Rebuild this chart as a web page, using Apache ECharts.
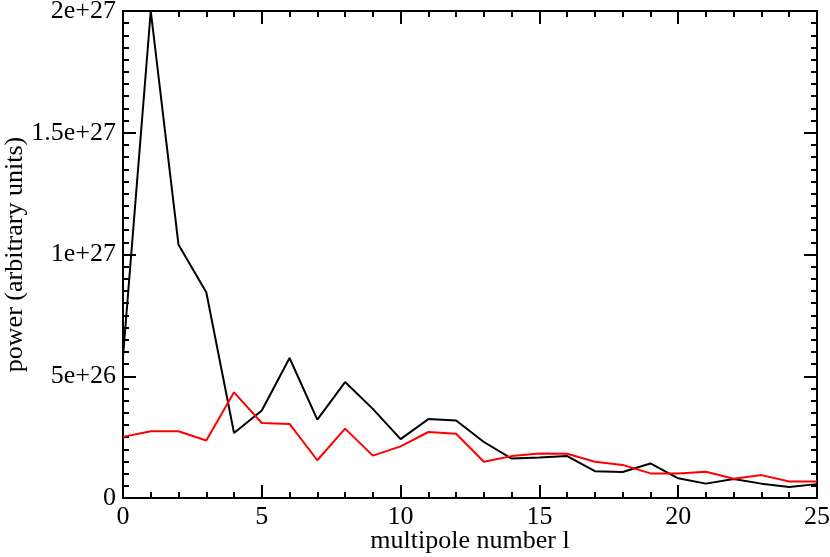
<!DOCTYPE html>
<html>
<head>
<meta charset="utf-8">
<script src="https://cdn.jsdelivr.net/npm/echarts@6/dist/echarts.min.js"></script>
<style>
html, body { margin: 0; padding: 0; background: #fff; }
#chart { width: 830px; height: 557px; }
</style>
</head>
<body>
<div id="chart"></div>
<script>
// multipole number l
var multipoles = [0, 1, 2, 3, 4, 5, 6, 7, 8, 9, 10, 11, 12, 13, 14, 15, 16, 17, 18, 19, 20, 21, 22, 23, 24, 25];
// power, black curve
var powerBlack = [5.8e26, 2.0e27, 1.04e27, 8.45e26, 2.67e26, 3.59e26, 5.75e26, 3.22e26, 4.76e26, 3.66e26,
	2.42e26, 3.24e26, 3.18e26, 2.3e26, 1.62e26, 1.66e26, 1.72e26, 1.10e26, 1.07e26, 1.42e26,
	8.1e25, 5.9e25, 7.8e25, 5.9e25, 4.5e25, 5.7e25];
// power, red curve
var powerRed = [2.51e26, 2.74e26, 2.74e26, 2.36e26, 4.34e26, 3.08e26, 3.04e26, 1.55e26, 2.85e26, 1.74e26,
	2.12e26, 2.71e26, 2.64e26, 1.49e26, 1.72e26, 1.83e26, 1.82e26, 1.49e26, 1.36e26, 1.01e26,
	1.01e26, 1.08e26, 7.9e25, 9.4e25, 6.8e25, 6.8e25];

function pairs(xs, ys) {
	var out = [];
	for (var i = 0; i < xs.length; i++) {
		out.push([xs[i], ys[i]]);
	}
	return out;
}

var font = 'Liberation Serif';
var fsize = 26;

function yLabel(v) {
	if (v === 0) return '0';
	return Number(v.toPrecision(3)).toExponential();
}

//frame axis: ticks inside, no labels
function frameAxis(pos, isX) {
	return {
		type: 'value',
		position: pos,
		min: 0,
		max: isX ? 25 : 2e27,
		interval: isX ? 5 : 5e26,
		axisLine: { show: true, onZero: false, lineStyle: { color: '#000', width: 2 } },
		axisTick: { show: true, inside: true, length: 13, lineStyle: { color: '#000', width: 2 } },
		minorTick: { show: true, splitNumber: isX ? 5 : 10, length: 6, lineStyle: { color: '#000', width: 2 } },
		splitLine: { show: false },
		minorSplitLine: { show: false },
		axisLabel: { show: false }
	};
}

var chart = echarts.init(document.getElementById('chart'));

var xMain = frameAxis('bottom', true);
xMain.name = 'multipole number l';
xMain.nameLocation = 'middle';
xMain.nameGap = 30;
xMain.nameMoveOverlap = false;
xMain.nameTextStyle = { fontFamily: font, fontSize: fsize, color: '#000' };
xMain.axisLabel = { show: true, fontFamily: font, fontSize: fsize, color: '#000', margin: 6 };

var yMain = frameAxis('left', false);
yMain.name = 'power (arbitrary units)';
yMain.nameLocation = 'middle';
yMain.nameGap = 95;
yMain.nameMoveOverlap = false;
yMain.nameTextStyle = { fontFamily: font, fontSize: fsize, color: '#000' };
yMain.axisLabel = { show: true, fontFamily: font, fontSize: fsize, color: '#000', margin: 7, formatter: yLabel };

var option = {
	backgroundColor: '#fff',
	animation: false,
	grid: { left: 123, right: 13, top: 11, bottom: 59, containLabel: false, outerBoundsMode: 'none' },
	xAxis: [xMain, frameAxis('top', true)],
	yAxis: [yMain, frameAxis('right', false)],
	series: [
		{
			name: 'black',
			type: 'line',
			data: pairs(multipoles, powerBlack),
			showSymbol: false,
			lineStyle: { color: '#000', width: 2 },
			z: 3
		},
		{
			name: 'red',
			type: 'line',
			data: pairs(multipoles, powerRed),
			showSymbol: false,
			lineStyle: { color: '#ff0000', width: 2 },
			z: 4
		}
	]
};
chart.setOption(option);
</script>
</body>
</html>
